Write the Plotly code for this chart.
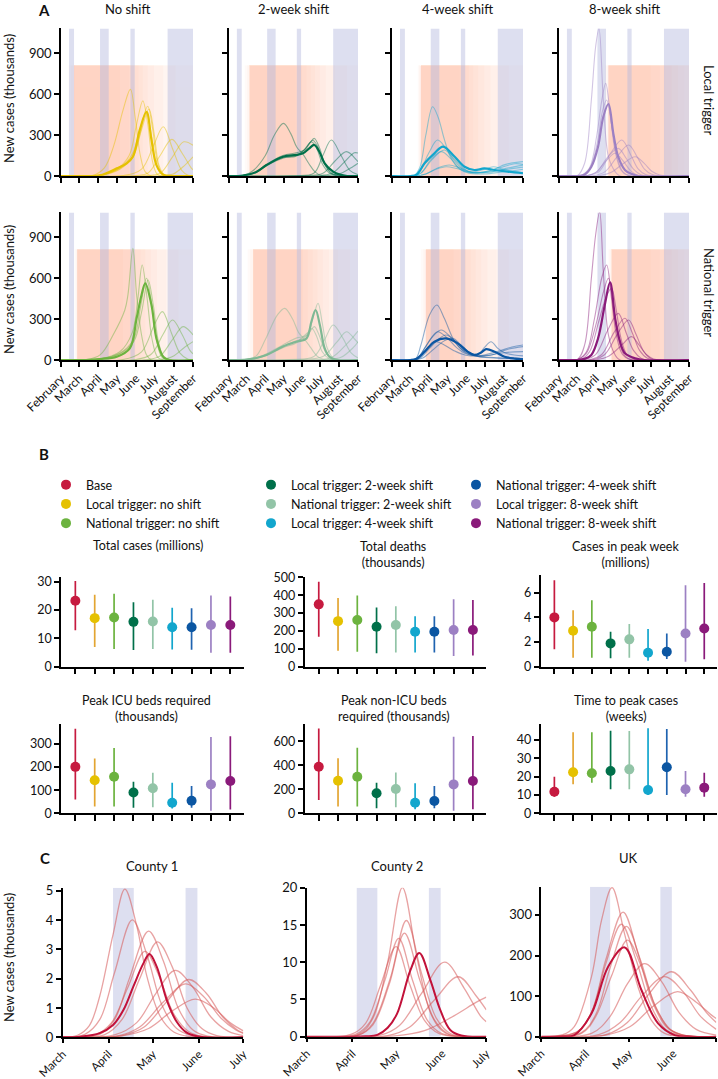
import plotly.graph_objects as go

W, H = 718, 1079
FONT = "Lato, 'Open Sans', 'DejaVu Sans', sans-serif"

# ------------------------------------------------------------------ data
months_A = ["February", "March", "April", "May", "June", "July", "August", "September"]
month_days_A = [0, 29, 60, 90, 121, 151, 182, 213]          # days since 1 Feb
months_C = ["March", "April", "May", "June", "July"]
month_days_C = [0, 31, 61, 92, 122]                          # days since 1 Mar

holidays_A = [(13, 21), (63, 77), (112, 119), (172, 213)]   # school holidays, days since 1 Feb
holidays_C = [(34, 48), (83, 91)]                            # days since 1 Mar

series_names = ["Base", "Local trigger: no shift", "National trigger: no shift",
                "Local trigger: 2-week shift", "National trigger: 2-week shift",
                "Local trigger: 4-week shift", "National trigger: 4-week shift",
                "Local trigger: 8-week shift", "National trigger: 8-week shift"]
dot_colors = ["#c61a3f", "#e5c100", "#6cb33f", "#00704a", "#92c4a7",
              "#12a6cd", "#0b56a2", "#9c80c3", "#8a1a7a"]
bar_colors = ["#c61a3f", "#e3a532", "#6cb33f", "#00704a", "#92c4a7",
              "#12a6cd", "#1f63b0", "#9c80c3", "#8a1a7a"]
legend_order = [0, 3, 6, 1, 4, 7, 2, 5, 8]

# ---- Panel B summary statistics (median, lower, upper), order as series_names
cases_med = [23.2, 17.1, 17.3, 15.8, 15.9, 13.9, 13.9, 14.7, 14.7]
cases_lo = [12.8, 6.9, 6.2, 5.9, 6.2, 6.1, 6.0, 4.9, 4.9]
cases_hi = [30.2, 25.3, 25.7, 22.7, 23.6, 20.8, 20.6, 25.1, 24.7]
deaths_med = [349, 255, 261, 224, 233, 196, 196, 205, 205]
deaths_lo = [168, 89, 84, 75, 80, 80, 80, 60, 62]
deaths_hi = [475, 385, 399, 332, 339, 283, 283, 378, 373]
peakwk_med = [4.0, 2.92, 3.24, 1.89, 2.22, 1.13, 1.21, 2.7, 3.1]
peakwk_lo = [1.41, 0.73, 0.73, 0.68, 0.73, 0.49, 0.62, 0.4, 0.6]
peakwk_hi = [7.02, 4.59, 5.4, 2.83, 3.46, 3.05, 2.7, 6.6, 6.8]
icu_med = [201, 143, 158, 90, 108, 46, 54, 125, 140]
icu_lo = [60, 29, 29, 24, 26, 21, 24, 11, 16]
icu_hi = [366, 237, 283, 136, 175, 132, 118, 330, 333]
nonicu_med = [388, 272, 305, 167, 203, 88, 102, 241, 269]
nonicu_lo = [111, 56, 56, 42, 50, 33, 42, 22, 33]
nonicu_hi = [708, 458, 547, 255, 341, 250, 227, 638, 644]
ttp_med = [11.8, 22.4, 21.9, 23.1, 24.0, 12.7, 25.1, 13.1, 14.0]
ttp_lo = [9.1, 15.8, 16.7, 13.1, 13.1, 10.0, 10.0, 9.1, 9.1]
ttp_hi = [20.0, 44.3, 44.3, 45.1, 45.0, 46.4, 46.0, 23.1, 22.2]

# ---- Panel A intervention periods (start / end day of each simulated trigger)
local_noshift_on = [12, 16, 21, 21, 21, 21, 21, 21, 21, 21]
local_noshift_off = [95, 110, 118, 125, 132, 140, 150, 165, 185, 213]
local_2wk_on = [26, 30, 34, 34, 34, 34, 34, 34, 34, 34]
local_2wk_off = [110, 120, 128, 135, 142, 150, 160, 175, 195, 213]
local_4wk_on = [42, 44, 47, 47, 47, 47, 47, 47, 47, 47]
local_4wk_off = [110, 118, 125, 132, 140, 150, 160, 172, 190, 213]
local_8wk_on = [75, 78, 81, 81, 81, 81, 81, 81, 81, 81]
local_8wk_off = [150, 165, 175, 185, 195, 205, 213, 213, 213, 213]
national_noshift_on = [22, 24, 26, 26, 26, 26, 26, 26, 26, 26]
national_noshift_off = [100, 112, 120, 128, 136, 145, 155, 170, 190, 213]
national_2wk_on = [31, 35, 40, 40, 40, 40, 40, 40, 40, 40]
national_2wk_off = [112, 122, 130, 138, 146, 155, 165, 180, 200, 213]
national_4wk_on = [47, 51, 55, 55, 55, 55, 55, 55, 55, 55]
national_4wk_off = [100, 110, 120, 128, 136, 145, 155, 170, 190, 213]
national_8wk_on = [81, 83, 86, 86, 86, 86, 86, 86, 86, 86]
national_8wk_off = [150, 165, 175, 185, 195, 205, 213, 213, 213, 213]
intervention_top = 810

# ---- Panel A epidemic curves: [day since 1 Feb, new cases (thousands)]
local_noshift_main = [[0, 0], [40, 0], [63, 5], [90, 56], [106, 93], [116, 141], [127, 336], [138, 470],
                      [146, 263], [154, 80], [165, 10], [180, 0], [213, 0]]
local_noshift_runs = [
    [[0, 0], [50, 2], [70, 60], [85, 220], [100, 480], [112, 634], [120, 420], [128, 150], [136, 30], [146, 0], [213, 0]],
    [[0, 0], [60, 3], [90, 50], [110, 150], [122, 380], [132, 550], [140, 380], [148, 100], [156, 10], [170, 0], [213, 0]],
    [[0, 0], [60, 3], [95, 60], [115, 160], [128, 350], [140, 510], [148, 340], [156, 90], [165, 8], [180, 0], [213, 0]],
    [[0, 0], [60, 3], [95, 55], [117, 150], [130, 340], [142, 490], [150, 320], [158, 80], [167, 8], [180, 0], [213, 0]],
    [[0, 0], [60, 3], [95, 50], [115, 140], [127, 300], [137, 465], [146, 300], [154, 80], [163, 8], [175, 0], [213, 0]],
    [[0, 0], [100, 3], [130, 50], [150, 230], [165, 360], [180, 200], [195, 40], [205, 5], [213, 0]],
    [[0, 0], [120, 3], [140, 20], [160, 150], [179, 268], [195, 170], [210, 60], [213, 45]],
    [[0, 0], [140, 3], [160, 20], [180, 140], [198, 250], [213, 225]],
    [[0, 0], [160, 2], [180, 12], [200, 80], [213, 140]],
]
local_2wk_main = [[0, 0], [20, 2], [45, 30], [62, 80], [89, 141], [111, 154], [122, 166], [132, 200], [141, 227],
                  [150, 170], [158, 93], [172, 32], [183, 10], [195, 0], [213, 0]]
local_2wk_runs = [
    [[0, 0], [25, 5], [40, 40], [60, 150], [75, 300], [90, 385], [102, 310], [112, 210], [122, 160], [132, 90], [142, 30], [152, 5], [213, 0]],
    [[0, 0], [20, 2], [45, 30], [62, 85], [89, 150], [111, 170], [125, 190], [135, 250], [141, 275], [150, 200], [158, 90], [170, 20], [185, 0], [213, 0]],
    [[0, 0], [20, 2], [45, 30], [62, 80], [89, 135], [111, 150], [126, 200], [138, 262], [146, 220], [155, 110], [167, 25], [180, 0], [213, 0]],
    [[0, 0], [20, 2], [45, 25], [62, 75], [89, 130], [111, 145], [124, 190], [136, 250], [145, 200], [154, 90], [166, 20], [180, 0], [213, 0]],
    [[0, 0], [100, 3], [140, 20], [155, 150], [169, 263], [185, 150], [200, 40], [213, 10]],
    [[0, 0], [120, 2], [155, 20], [175, 110], [194, 178], [210, 120], [213, 105]],
    [[0, 0], [140, 2], [170, 20], [190, 100], [207, 170], [213, 168]],
    [[0, 0], [160, 2], [185, 20], [205, 70], [213, 93]],
]
local_4wk_main = [[0, 0], [30, 0], [40, 10], [53, 93], [69, 166], [83, 215], [102, 141], [118, 68], [134, 44],
                  [150, 56], [167, 44], [188, 32], [213, 20]]
local_4wk_runs = [
    [[0, 0], [35, 0], [45, 60], [55, 300], [66, 507], [75, 430], [85, 270], [95, 140], [110, 50], [125, 20], [150, 15], [180, 30], [200, 40], [213, 50]],
    [[0, 0], [35, 0], [45, 30], [60, 170], [74, 263], [88, 200], [100, 120], [115, 50], [130, 25], [160, 30], [190, 60], [213, 80]],
    [[0, 0], [35, 0], [48, 25], [65, 120], [85, 190], [100, 130], [115, 60], [130, 25], [160, 40], [185, 85], [213, 105]],
    [[0, 0], [35, 0], [48, 25], [63, 120], [80, 178], [95, 130], [110, 55], [125, 25], [150, 30], [175, 60], [200, 90], [213, 85]],
    [[0, 0], [38, 0], [55, 15], [75, 60], [93, 80], [110, 60], [130, 30], [155, 55], [165, 68], [180, 50], [200, 30], [213, 25]],
    [[0, 0], [38, 0], [55, 15], [72, 50], [88, 68], [105, 55], [125, 30], [150, 25], [180, 45], [213, 65]],
]
local_8wk_main = [[0, 0], [30, 0], [42, 10], [53, 68], [64, 215], [72.6, 434], [81, 527], [89, 312], [97, 141],
                  [108, 44], [119, 15], [130, 0], [213, 0]]
local_8wk_runs = [
    [[0, 0], [30, 2], [42, 93], [53, 556], [60, 946], [65.5, 1080], [72.6, 556], [81, 141], [92, 32], [100, 0], [213, 0]],
    [[0, 0], [35, 2], [50, 60], [62, 300], [70, 550], [76.5, 678], [84, 450], [92, 180], [102, 40], [112, 5], [213, 0]],
    [[0, 0], [35, 2], [50, 50], [63, 250], [71, 470], [78, 556], [86, 380], [94, 160], [104, 35], [115, 3], [213, 0]],
    [[0, 0], [45, 2], [65, 30], [85, 170], [103, 263], [118, 150], [130, 50], [142, 10], [155, 0], [213, 0]],
    [[0, 0], [55, 2], [75, 30], [95, 140], [114, 227], [128, 140], [140, 50], [152, 12], [165, 0], [213, 0]],
    [[0, 0], [45, 2], [62, 30], [80, 140], [97, 202], [110, 130], [122, 50], [134, 10], [145, 0], [213, 0]],
    [[0, 0], [65, 2], [85, 25], [105, 90], [125, 141], [140, 90], [152, 35], [165, 8], [178, 0], [213, 0]],
    [[0, 0], [45, 2], [60, 25], [77, 110], [92, 166], [105, 110], [117, 40], [128, 8], [140, 0], [213, 0]],
]
national_noshift_main = [[0, 0], [40, 0], [63, 7], [90, 24], [111, 85], [122, 305], [130, 476], [136, 561],
                         [146, 402], [154, 158], [165, 24], [175, 0], [213, 0]]
national_noshift_runs = [
    [[0, 0], [40, 2], [63, 37], [84, 183], [103, 366], [108, 476], [116, 817], [122, 476], [130, 183], [138, 37], [146, 0], [213, 0]],
    [[0, 0], [60, 5], [95, 60], [115, 200], [124, 450], [131, 695], [139, 450], [147, 150], [156, 20], [168, 0], [213, 0]],
    [[0, 0], [60, 5], [95, 50], [117, 150], [128, 380], [138, 598], [146, 420], [154, 150], [163, 20], [175, 0], [213, 0]],
    [[0, 0], [60, 5], [95, 45], [118, 140], [130, 350], [140.5, 585], [149, 400], [157, 140], [166, 20], [178, 0], [213, 0]],
    [[0, 0], [100, 3], [130, 60], [150, 250], [163.6, 354], [178, 200], [192, 50], [205, 5], [213, 0]],
    [[0, 0], [120, 3], [145, 40], [165, 190], [180, 293], [195, 190], [208, 70], [213, 45]],
    [[0, 0], [140, 3], [160, 30], [180, 150], [197, 244], [210, 200], [213, 183]],
    [[0, 0], [160, 3], [180, 25], [200, 95], [213, 134]],
]
national_2wk_main = [[0, 0], [25, 2], [45, 15], [62, 37], [89, 98], [111, 134], [128, 158], [136, 280], [143, 366],
                     [150, 256], [158, 85], [166, 24], [178, 0], [213, 0]]
national_2wk_runs = [
    [[0, 0], [30, 5], [45, 30], [60, 150], [80, 330], [92, 378], [105, 300], [115, 200], [125, 150], [135, 90], [145, 30], [155, 5], [213, 0]],
    [[0, 0], [25, 2], [45, 15], [62, 45], [89, 110], [111, 160], [128, 180], [140, 330], [147, 415], [154, 270], [162, 90], [172, 15], [185, 0], [213, 0]],
    [[0, 0], [25, 2], [45, 15], [62, 40], [89, 100], [111, 140], [125, 165], [134, 210], [141, 244], [149, 180], [158, 70], [168, 10], [180, 0], [213, 0]],
    [[0, 0], [25, 2], [45, 12], [62, 35], [89, 90], [111, 125], [122, 170], [130, 200], [137, 230], [145, 170], [154, 60], [165, 10], [178, 0], [213, 0]],
    [[0, 0], [100, 3], [140, 25], [158, 150], [172, 256], [188, 160], [202, 50], [213, 15]],
    [[0, 0], [120, 3], [155, 25], [178, 130], [194, 207], [208, 150], [213, 125]],
    [[0, 0], [140, 2], [170, 20], [195, 120], [213, 212]],
    [[0, 0], [160, 2], [185, 20], [205, 90], [213, 134]],
]
national_4wk_main = [[0, 0], [30, 0], [40, 10], [53, 61], [69, 134], [88, 158], [107, 122], [123, 61], [134, 37],
                     [145, 55], [153, 80], [167, 61], [183, 24], [200, 10], [213, 5]]
national_4wk_runs = [
    [[0, 0], [30, 0], [39, 12], [47, 110], [61, 330], [73, 402], [85, 305], [102, 134], [118, 61], [135, 30], [160, 20], [213, 10]],
    [[0, 0], [32, 0], [42, 15], [55, 100], [68, 180], [80, 220], [95, 170], [110, 90], [125, 40], [140, 40], [150, 90], [161, 134], [172, 85], [185, 50], [213, 30]],
    [[0, 0], [32, 0], [42, 15], [55, 100], [65, 170], [74.5, 207], [90, 160], [105, 90], [120, 45], [140, 30], [170, 60], [195, 95], [213, 110]],
    [[0, 0], [32, 0], [45, 12], [60, 80], [75, 150], [88, 183], [102, 140], [118, 70], [135, 35], [160, 35], [190, 80], [213, 98]],
    [[0, 0], [32, 0], [43, 10], [55, 70], [65, 120], [72, 134], [85, 110], [100, 70], [120, 35], [150, 30], [185, 55], [213, 61]],
    [[0, 0], [35, 0], [50, 15], [68, 80], [85, 140], [99, 158], [112, 110], [125, 55], [140, 25], [165, 15], [213, 10]],
]
national_8wk_main = [[0, 0], [30, 0], [42, 8], [53, 37], [64, 158], [75, 402], [83.7, 568], [92, 305], [100, 134],
                     [108, 49], [125, 12], [140, 0], [213, 0]]
national_8wk_runs = [
    [[0, 0], [30, 3], [42, 110], [53, 598], [60, 915], [66.6, 1085], [72.6, 646], [81, 183], [92, 37], [100, 0], [213, 0]],
    [[0, 0], [30, 2], [45, 60], [58, 300], [70, 600], [78, 695], [86, 450], [94, 180], [104, 40], [115, 5], [213, 0]],
    [[0, 0], [30, 2], [45, 50], [60, 250], [73, 500], [81, 598], [89, 400], [97, 160], [107, 35], [118, 3], [213, 0]],
    [[0, 0], [40, 2], [60, 40], [80, 220], [97, 341], [110, 200], [122, 70], [135, 12], [148, 0], [213, 0]],
    [[0, 0], [50, 2], [70, 40], [90, 200], [108, 305], [120, 200], [132, 70], [145, 12], [160, 0], [213, 0]],
    [[0, 0], [55, 2], [75, 40], [97, 200], [114, 293], [126, 190], [138, 70], [150, 12], [165, 0], [213, 0]],
    [[0, 0], [60, 2], [82, 30], [103, 110], [119, 171], [131, 110], [143, 40], [155, 8], [168, 0], [213, 0]],
    [[0, 0], [35, 2], [50, 60], [65, 280], [78, 470], [86, 524], [94, 360], [102, 150], [112, 35], [125, 3], [213, 0]],
]

# ---- Panel C curves: [day since 1 Mar, new cases (thousands)]
county1_main = [[0, 0], [12, 0.02], [25, 0.14], [34, 0.42], [41, 0.93], [47.7, 1.73], [54.5, 2.52], [58.6, 2.84],
                [63.5, 2.41], [70.3, 1.27], [77, 0.53], [83.8, 0.16], [93, 0.02], [122, 0]]
county1_runs = [
    [[0, 0], [10, 0.07], [18, 0.4], [25, 1.4], [34, 3.5], [42, 5.05], [50, 3.8], [57, 2.05], [66, 0.7], [75, 0.18], [85, 0.03], [122, 0]],
    [[0, 0], [15, 0.1], [25, 0.6], [35, 2.2], [47, 4.0], [57, 2.8], [67, 1.1], [77, 0.3], [88, 0.05], [122, 0]],
    [[0, 0], [25, 0.1], [35, 0.6], [45, 2.0], [58, 3.62], [68, 2.6], [78, 1.0], [88, 0.25], [98, 0.04], [122, 0]],
    [[0, 0], [28, 0.08], [40, 0.6], [52, 2.0], [64, 3.25], [74, 2.4], [84, 1.0], [94, 0.3], [104, 0.06], [122, 0]],
    [[0, 0], [22, 0.08], [33, 0.5], [44, 1.7], [55.5, 2.93], [65, 2.1], [75, 0.8], [85, 0.2], [95, 0.03], [122, 0]],
    [[0, 0], [35, 0.08], [50, 0.5], [63, 1.5], [76, 2.28], [88, 1.7], [100, 0.7], [112, 0.2], [122, 0.06]],
    [[0, 0], [40, 0.06], [55, 0.35], [70, 1.2], [85, 1.97], [97, 1.5], [108, 0.7], [118, 0.25], [122, 0.15]],
    [[0, 0], [38, 0.06], [52, 0.35], [68, 1.2], [83, 1.82], [95, 1.4], [107, 0.65], [117, 0.25], [122, 0.13]],
    [[0, 0], [40, 0.05], [58, 0.3], [74, 0.9], [89.5, 1.3], [102, 1.0], [113, 0.5], [122, 0.22]],
]
county2_main = [[0, 0], [40, 0.05], [48, 0.25], [55, 1.2], [61.4, 3.1], [70.4, 8.9], [76.5, 11.25], [84, 7.6],
                [90.7, 3.6], [97.5, 0.9], [105, 0.15], [122, 0]]
county2_runs = [
    [[0, 0], [35, 0.3], [45, 2.5], [55, 10], [65, 20], [75, 10.5], [85, 2.8], [95, 0.4], [122, 0]],
    [[0, 0], [35, 0.2], [45, 1.8], [57, 8], [67.7, 15.6], [78, 8.5], [88, 2.5], [98, 0.4], [122, 0]],
    [[0, 0], [35, 0.2], [45, 1.6], [56, 7], [66.4, 13.9], [77, 7.5], [87, 2.2], [97, 0.3], [122, 0]],
    [[0, 0], [33, 0.3], [43, 2], [53, 7.5], [62.5, 13.2], [72, 7.5], [82, 2.2], [92, 0.4], [122, 0]],
    [[0, 0], [30, 0.3], [40, 1.8], [50, 6.8], [60.7, 12.1], [70, 7], [80, 2.2], [90, 0.4], [122, 0]],
    [[0, 0], [50, 0.2], [63, 1.5], [78, 5.8], [93.7, 10], [107, 6.5], [118, 2.8], [122, 2.0]],
    [[0, 0], [55, 0.15], [70, 1.3], [87, 5], [103, 8.05], [115, 5.5], [122, 3.6]],
    [[0, 0], [60, 0.1], [80, 0.8], [100, 2.8], [115, 4.6], [122, 5.3]],
]
uk_main = [[0, 0], [15, 0.5], [23, 4], [35, 57], [46.5, 172], [58.1, 220], [69.8, 115], [81.4, 33], [93, 4],
           [105, 0], [122, 0]]
uk_runs = [
    [[0, 0], [15, 5], [23, 25], [35, 148], [42, 287], [49.3, 367], [58, 254], [67.4, 123], [76.7, 41], [86, 8], [100, 0], [122, 0]],
    [[0, 0], [25, 12], [35, 60], [45, 190], [57, 307], [67, 210], [77, 90], [87, 25], [97, 5], [122, 0]],
    [[0, 0], [25, 12], [35, 60], [45, 180], [55.8, 277], [66, 190], [76, 80], [86, 20], [96, 4], [122, 0]],
    [[0, 0], [28, 10], [38, 55], [48, 170], [59.3, 272], [69, 190], [79, 80], [89, 20], [99, 4], [122, 0]],
    [[0, 0], [28, 8], [38, 50], [49, 150], [60, 238], [70, 170], [80, 70], [90, 18], [100, 3], [122, 0]],
    [[0, 0], [35, 8], [48, 50], [60, 130], [72, 180], [84, 135], [96, 60], [108, 18], [122, 4]],
    [[0, 0], [45, 5], [60, 35], [75, 105], [90.7, 160], [104, 115], [115, 60], [122, 35]],
    [[0, 0], [40, 5], [55, 35], [70, 100], [86, 148], [99, 110], [111, 50], [122, 18]],
    [[0, 0], [45, 4], [62, 25], [78, 75], [95, 111], [108, 85], [118, 55], [122, 45]],
]

# ------------------------------------------------------------------ figure helpers
fig = go.Figure()
layout = {}
shapes = []
annotations = []

AX = dict(showline=True, linecolor="black", linewidth=1.5, ticks="outside", ticklen=5,
          tickwidth=1.5, tickcolor="black", showgrid=False, zeroline=False, automargin=False,
          tickfont=dict(family=FONT, size=12.5, color="#111"))


def suffix(i):
    return "" if i == 1 else str(i)


def set_axes(i, xpx, ypx, xr, yr, xkw, ykw):
    s = suffix(i)
    xa = dict(AX, domain=[xpx[0] / W, xpx[1] / W], anchor="y" + s, range=xr)
    xa.update(xkw)
    ya = dict(AX, domain=[1 - ypx[1] / H, 1 - ypx[0] / H], anchor="x" + s, range=yr)
    ya.update(ykw)
    layout["xaxis" + s] = xa
    layout["yaxis" + s] = ya


def add_line(i, pts, color, width, opacity):
    s = suffix(i)
    fig.add_trace(go.Scatter(x=[p[0] for p in pts], y=[p[1] for p in pts], mode="lines",
                             line=dict(color=color, width=width, shape="spline", smoothing=1.0),
                             opacity=opacity, xaxis="x" + s, yaxis="y" + s,
                             showlegend=False, hoverinfo="skip"))


def add_rect(i, x0, x1, y0, y1, color):
    s = suffix(i)
    shapes.append(dict(type="rect", xref="x" + s, yref="y" + s, x0=x0, x1=x1, y0=y0, y1=y1,
                       fillcolor=color, line=dict(width=0), layer="below"))


def add_text(x, y, text, size=12.5, angle=0, bold=False, xanchor="center"):
    annotations.append(dict(xref="paper", yref="paper", x=x / W, y=1 - y / H,
                            text=("<b>" + text + "</b>") if bold else text,
                            showarrow=False, textangle=angle, xanchor=xanchor, yanchor="middle",
                            font=dict(family=FONT, size=size, color="#111")))


ORANGE = "rgba(248,160,118,0.052)"
HOLIDAY = "rgba(180,185,222,0.45)"

# ------------------------------------------------------------------ Panel A
cols_px = [(61, 193), (229, 358), (392, 523), (559, 689)]
rows_px = [(28.4, 176), (212.4, 360)]
panelA = [
    (0, 0, local_noshift_main, local_noshift_runs, local_noshift_on, local_noshift_off, dot_colors[1]),
    (0, 1, local_2wk_main, local_2wk_runs, local_2wk_on, local_2wk_off, dot_colors[3]),
    (0, 2, local_4wk_main, local_4wk_runs, local_4wk_on, local_4wk_off, dot_colors[5]),
    (0, 3, local_8wk_main, local_8wk_runs, local_8wk_on, local_8wk_off, dot_colors[7]),
    (1, 0, national_noshift_main, national_noshift_runs, national_noshift_on, national_noshift_off, dot_colors[2]),
    (1, 1, national_2wk_main, national_2wk_runs, national_2wk_on, national_2wk_off, "#7fb894"),
    (1, 2, national_4wk_main, national_4wk_runs, national_4wk_on, national_4wk_off, dot_colors[6]),
    (1, 3, national_8wk_main, national_8wk_runs, national_8wk_on, national_8wk_off, dot_colors[8]),
]
for k, (r, c, main, runs, on, off, col) in enumerate(panelA):
    i = k + 1
    xkw = dict(tickvals=month_days_A, ticktext=months_A, showticklabels=(r == 1), tickangle=-45,
               tickfont=dict(family=FONT, size=12, color="#111"))
    ykw = dict(tickvals=[0, 300, 600, 900], showticklabels=(c == 0),
               tickfont=dict(family=FONT, size=13, color="#111"))
    set_axes(i, cols_px[c], rows_px[r], [0, 213], [0, 1080], xkw, ykw)
    for a, b in zip(on, off):
        add_rect(i, a, b, 0, intervention_top, ORANGE)
    for a, b in holidays_A:
        add_rect(i, a, b, 0, 1080, HOLIDAY)
    for run in runs:
        add_line(i, run, col, 1.1, 0.45)
    add_line(i, main, col, 2.2, 1.0)

add_text(44, 10, "A", size=15, bold=True)
for c, t in enumerate(["No shift", "2-week shift", "4-week shift", "8-week shift"]):
    add_text((cols_px[c][0] + cols_px[c][1]) / 2, 9, t, size=13)
add_text(709, 100, "Local trigger", size=13, angle=90)
add_text(709, 292, "National trigger", size=13, angle=90)
add_text(9, 99, "New cases (thousands)", size=13, angle=-90)
add_text(9, 290, "New cases (thousands)", size=13, angle=-90)

# ------------------------------------------------------------------ Panel B
b_specs = [
    ((61, 243.5), (576.7, 666.7), [0, 31.7], [0, 10, 20, 30], cases_med, cases_lo, cases_hi),
    ((304.5, 486), (577, 666.7), [0, 502], [0, 100, 200, 300, 400, 500], deaths_med, deaths_lo, deaths_hi),
    ((540.5, 717), (575, 666.7), [0, 7.44], [0, 2, 4, 6], peakwk_med, peakwk_lo, peakwk_hi),
    ((61, 243.5), (724.3, 813.3), [0, 385], [0, 100, 200, 300], icu_med, icu_lo, icu_hi),
    ((304.5, 486), (724.3, 813.3), [0, 742], [0, 200, 400, 600], nonicu_med, nonicu_lo, nonicu_hi),
    ((540.5, 717), (724.3, 813.3), [0, 48.6], [0, 10, 20, 30, 40], ttp_med, ttp_lo, ttp_hi),
]
for k, (xpx, ypx, yr, yt, med, lo, hi) in enumerate(b_specs):
    i = 9 + k
    s = suffix(i)
    xkw = dict(tickvals=list(range(9)), showticklabels=False, ticklen=6)
    ykw = dict(tickvals=yt, tickfont=dict(family=FONT, size=12.5, color="#111"))
    set_axes(i, xpx, ypx, [-0.74, 8.68], yr, xkw, ykw)
    order = legend_order if k == 0 else list(range(9))
    for j in order:
        fig.add_trace(go.Scatter(
            x=[j], y=[med[j]], mode="markers", name=series_names[j], legendgroup=series_names[j],
            showlegend=(k == 0), marker=dict(size=10, color=dot_colors[j]),
            error_y=dict(type="data", symmetric=False, array=[hi[j] - med[j]], arrayminus=[med[j] - lo[j]],
                         color=bar_colors[j], thickness=1.7, width=0),
            xaxis="x" + s, yaxis="y" + s, hoverinfo="skip"))

add_text(44, 454, "B", size=15, bold=True)
add_text(147.5, 545, "Total cases (millions)", size=12.5)
add_text(393, 554, "Total deaths<br>(thousands)", size=12.5)
add_text(625, 554, "Cases in peak week<br>(millions)", size=12.5)
add_text(146, 708.5, "Peak ICU beds required<br>(thousands)", size=12.5)
add_text(394, 708.5, "Peak non-ICU beds<br>required (thousands)", size=12.5)
add_text(626, 708.5, "Time to peak cases<br>(weeks)", size=12.5)

# ------------------------------------------------------------------ Panel C
c_specs = [
    ((62.7, 243.3), (887.7, 1037.3), [0, 5.1], [0, 1, 2, 3, 4, 5], county1_main, county1_runs),
    ((306.7, 486.3), (887.7, 1036.7), [0, 20.0], [0, 5, 10, 15, 20], county2_main, county2_runs),
    ((541.3, 716.3), (886.7, 1036.7), [0, 369.5], [0, 100, 200, 300], uk_main, uk_runs),
]
for k, (xpx, ypx, yr, yt, main, runs) in enumerate(c_specs):
    i = 15 + k
    xkw = dict(tickvals=month_days_C, ticktext=months_C, tickangle=-45, ticklen=4,
               tickfont=dict(family=FONT, size=11.5, color="#111"))
    ykw = dict(tickvals=yt, tickfont=dict(family=FONT, size=13, color="#111"))
    set_axes(i, xpx, ypx, [0, 122], yr, xkw, ykw)
    for a, b in holidays_C:
        add_rect(i, a, b, 0, yr[1], HOLIDAY)
    for run in runs:
        add_line(i, run, "rgb(214,88,88)", 1.3, 0.55)
    add_line(i, main, "#c2123a", 2.0, 1.0)

add_text(45, 858, "C", size=15, bold=True)
add_text(152, 866, "County 1", size=13)
add_text(396.5, 866, "County 2", size=13)
add_text(628.7, 858, "UK", size=13)
add_text(9, 958, "New cases (thousands)", size=13, angle=-90)

# ------------------------------------------------------------------ layout
layout.update(dict(
    template="none",
    width=W, height=H, margin=dict(l=0, r=0, t=0, b=0, autoexpand=False),
    paper_bgcolor="white", plot_bgcolor="white",
    font=dict(family=FONT, size=12.5, color="#111"),
    shapes=shapes, annotations=annotations,
    showlegend=True,
    legend=dict(orientation="h", x=46 / W, y=1 - 470 / H, xanchor="left", yanchor="top",
                entrywidth=160, entrywidthmode="pixels", itemsizing="trace",
                font=dict(family=FONT, size=12.5, color="#111"), bgcolor="rgba(0,0,0,0)",
                traceorder="normal"),
))
fig.update_layout(**layout)
fig.write_html("out.html", config={"displayModeBar": False},
               post_script="document.body.style.margin='0px';document.body.style.padding='0px';"
                           "document.body.style.overflow='hidden';")
